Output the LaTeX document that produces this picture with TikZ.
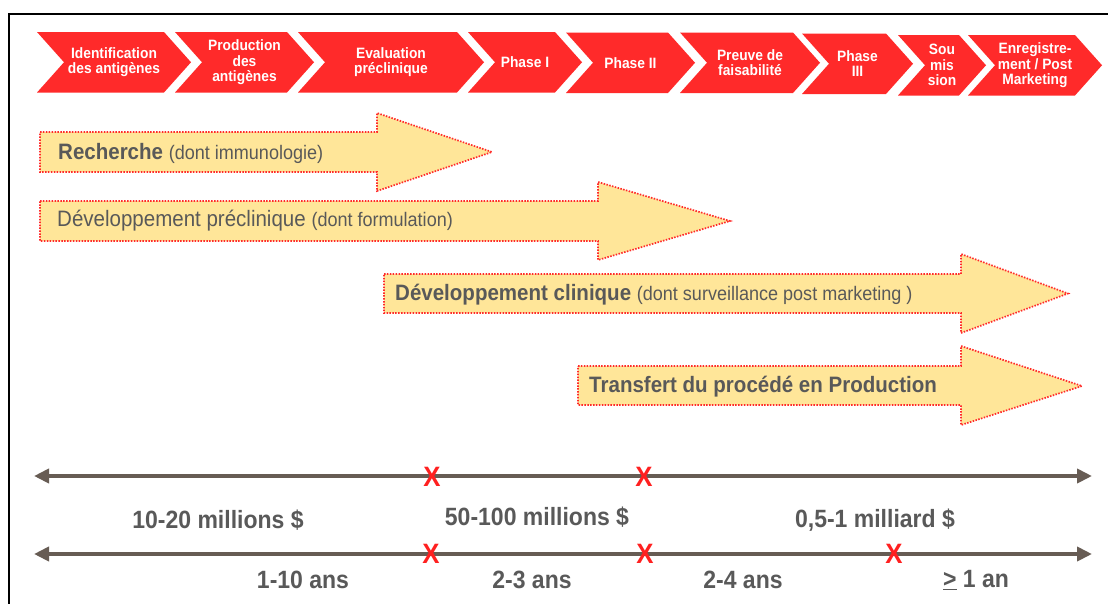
\documentclass[tikz,border=0pt]{standalone}
\usepackage{fontspec}
\setmainfont{Liberation Sans}[FakeStretch=0.92]
\usetikzlibrary{arrows.meta}
\definecolor{chevred}{HTML}{FF2A2A}
\definecolor{yfill}{HTML}{FFE699}
\definecolor{ybord}{HTML}{FF2A2A}
\definecolor{txtgray}{HTML}{595959}
\definecolor{tline}{HTML}{675C54}
\definecolor{xred}{HTML}{FF2020}
\newcommand\pfont{\fontsize{19.6}{22}\selectfont}
\begin{document}
\begin{tikzpicture}[x=1pt,y=-1pt,
 chev/.style={fill=chevred,draw=none},
 chevtext/.style={text=white,font=\fontsize{15}{15.5}\selectfont\bfseries,align=center,inner sep=0pt},
 yarrow/.style={fill=yfill,draw=ybord,line width=1.7pt,dash pattern=on 1.5pt off 1.4pt},
 ytext/.style={text=txtgray,anchor=west,inner sep=0pt,font=\fontsize{22.3}{24}\selectfont},
 tlarrow/.style={draw=tline,line width=4.5pt,{Triangle[length=15pt,width=14pt]}-{Triangle[length=15pt,width=14pt]}},
 xmark/.style={text=xred,font=\fontsize{28}{28}\selectfont\bfseries,inner sep=0pt},
 tlabel/.style={text=txtgray,font=\fontsize{25}{26}\selectfont\bfseries,inner sep=0pt}
]
\useasboundingbox (0,0) rectangle (1108,603);
\fill[white] (0,0) rectangle (1108,603);
\draw[line width=2pt] (9,604) -- (9,14) -- (1109,14);

% chevrons
\foreach \a/\b/\t/\n/\lab in {
 37/164/32/c1/{Identification\\des antigènes},
 175/287/32/c2/{Production\\des\\antigènes},
 298/457/32/c3/{Evaluation\\préclinique},
 468/555/32/c4/{Phase I},
 566/668/32.5/c5/{Phase II},
 680/793/32.5/c6/{Preuve de\\faisabilité},
 802/886/33.5/c7/{Phase\\III},
 898/959/35/c8/{Sou\\mis\\sion},
 968/1075/35/c9/{Enregistre-\\ment / Post\\Marketing}}{
 \fill[chev] (\a,\t) -- (\b,\t) -- ({\b+27},{\t+30.25}) -- (\b,{\t+60.5}) -- (\a,{\t+60.5}) -- ({\a+27},{\t+30.25}) -- cycle;
 \node[chevtext] (\n) at ({(\a+\b)/2+13.5},{\t+30.25}) {\lab};
}

% yellow arrows
\draw[yarrow] (40,132) -- (377,132) -- (377,113) -- (492,152) -- (377,191) -- (377,172) -- (40,172) -- cycle;
\draw[yarrow] (40,201) -- (598,201) -- (598,182) -- (730,221) -- (598,260) -- (598,241) -- (40,241) -- cycle;
\draw[yarrow] (384,274) -- (961,274) -- (961,254) -- (1068,293.5) -- (961,333) -- (961,313) -- (384,313) -- cycle;
\draw[yarrow] (578,366) -- (961,366) -- (961,346) -- (1082,386) -- (961,425) -- (961,405) -- (578,405) -- cycle;

\node[ytext] (t1) at (58,153) {\bfseries Recherche {\mdseries\pfont (dont immunologie)}};
\node[ytext] (t2) at (57,221) {Développement préclinique {\pfont (dont formulation)}};
\node[ytext] (t3) at (395,295) {\bfseries Développement clinique {\mdseries\pfont (dont surveillance post marketing )}};
\node[ytext] (t4) at (589,387) {\bfseries Transfert du procédé en Production};

% timelines
\coordinate (l1a) at (34,476);
\coordinate (l1b) at (1092,476);
\coordinate (l2a) at (34,554);
\coordinate (l2b) at (1092,554);
\draw[tlarrow] (l1a) -- (l1b);
\draw[tlarrow] (l2a) -- (l2b);

\node[xmark] (x1) at (432,476.5) {X};
\node[xmark] (x2) at (644,476.5) {X};
\node[xmark] (x3) at (431,553.5) {X};
\node[xmark] (x4) at (645,553.5) {X};
\node[xmark] (x5) at (894,553.5) {X};

\node[tlabel] (m1) at (218,520) {10-20 millions \$};
\node[tlabel] (m2) at (537,517) {50-100 millions \$};
\node[tlabel] (m3) at (875,520) {0,5-1 milliard \$};
\node[tlabel] (y1) at (303,580) {1-10 ans};
\node[tlabel] (y2) at (532,580) {2-3 ans};
\node[tlabel] (y3) at (743,580) {2-4 ans};
\node[tlabel] (y4) at (976,580) {\underline{>} 1 an};
\end{tikzpicture}
\end{document}
